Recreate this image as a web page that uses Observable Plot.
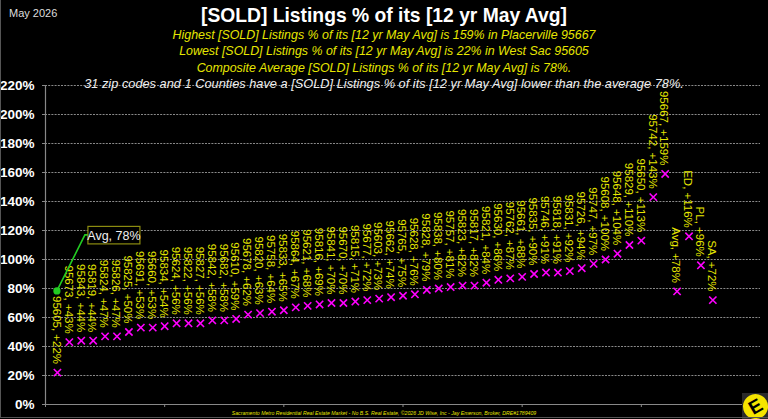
<!DOCTYPE html>
<html><head><meta charset="utf-8">
<script src="https://cdn.jsdelivr.net/npm/d3@7"></script>
<script src="https://cdn.jsdelivr.net/npm/@observablehq/plot@0.6"></script>
<style>
body{margin:0;background:#000;}
#wrap{position:relative;width:768px;height:419px;background:#000;overflow:hidden;font-family:"Liberation Sans",Arial,sans-serif;}
#wrap svg{position:absolute;left:0;top:0;}
.t{position:absolute;white-space:nowrap;line-height:1;}
.c{left:0;width:768px;text-align:center;}
</style></head><body><div id="wrap"></div>
<script>
// ---- data ----
const zipCodes = ["95605","95673","95843","95819","95824","95826","95825","95691","95660","95834",
  "95624","95822","95827","95842","95682","95610","95678","95820","95758","95833",
  "95864","95621","95816","95841","95670","95815","95677","95603","95662","95765",
  "95628","95828","95838","95757","95823","95817","95821","95630","95762","95661",
  "95835","95746","95818","95831","95726","95747","95608","95648","95829","95650",
  "95742","95667"];
const zipValues = [22,43,44,44,47,47,50,53,53,54,
  56,56,56,58,58,59,62,63,64,65,
  67,68,69,70,70,71,72,73,74,75,
  76,79,80,81,82,82,84,86,87,88,
  90,91,91,92,94,97,100,104,110,113,
  143,159];
const countyNames = ["Avg","ED","PL","SA"];
const countyValues = [78,116,96,72];
const averageValue = 78;
const yTicks = [0,20,40,60,80,100,120,140,160,180,200,220];
const xTicks = [0,10,20,30,40,50,60];

const names = zipCodes.concat(countyNames);
const vals = zipValues.concat(countyValues);
const data = names.map((n, i) => ({pos: i + 1, name: n, value: vals[i]}));

const yellow = "#e6e600";

function callout(index, scales, values, dimensions, context) {
  const x0 = scales.x(1), y0 = scales.y(averageValue);
  const g = d3.create("svg:g");
  g.append("path").attr("d", `M${x0},${y0}L${x0+28},${y0-56}L${x0+31},${y0-56}`)
    .attr("fill","none").attr("stroke","#22cc22").attr("stroke-width",1.6);
  g.append("circle").attr("cx",x0).attr("cy",y0).attr("r",3.6).attr("fill","#22cc22");
  g.append("rect").attr("x",x0+31).attr("y",y0-64.5).attr("width",52).attr("height",17.5)
    .attr("fill","#000").attr("stroke","#8c8c10").attr("stroke-width",1.2);
  g.append("text").attr("x",x0+57).attr("y",y0-55.5).attr("dy","0.35em")
    .attr("text-anchor","middle").attr("fill","#f0f0f0").attr("font-size",12.5)
    .text(`Avg, ${averageValue}%`);
  return g.node();
}

const chart = Plot.plot({
  width: 768, height: 419,
  marginLeft: 45, marginRight: 8, marginTop: 85, marginBottom: 15,
  style: {background: "transparent", color: "#fff", fontFamily: "Liberation Sans, Arial, sans-serif"},
  x: {domain: [0, 60], axis: null},
  y: {domain: [0, 220], axis: null},
  marks: [
    Plot.gridY(yTicks, {stroke: "#8a8a8a", strokeOpacity: 1, strokeDasharray: "2,1.2", strokeWidth: 1}),
    Plot.axisY(yTicks, {tickFormat: d => d + "%", tickSize: 3, tickPadding: 8, stroke: "#888",
      fill: "#fff", fontSize: 13.5, fontWeight: "bold", label: null}),
    Plot.axisX(xTicks, {tickFormat: () => "", tickSize: 3, stroke: "#888", label: null}),
    Plot.ruleY([0], {stroke: "#888", strokeWidth: 1.2}),
    Plot.ruleX([0], {y1: 0, y2: 220, stroke: "#888", strokeWidth: 1.2}),
    Plot.dot(data, {x: "pos", y: "value", symbol: "times", r: 3.4, stroke: "#ff00ff", strokeWidth: 1.6}),
    Plot.text(data, {x: "pos", y: "value", text: d => `${d.name}, +${d.value}%`, rotate: 90,
      textAnchor: "end", lineAnchor: "middle", dy: -8.5, dx: -1, fill: yellow, fontSize: 11.5}),
    callout
  ]
});

const wrap = document.getElementById("wrap");
wrap.appendChild(chart);

function addText(txt, css) {
  const d = document.createElement("div");
  d.className = "t" + (css.center ? " c" : "");
  d.textContent = txt;
  for (const k in css) if (k !== "center") d.style[k] = css[k];
  wrap.appendChild(d);
}
addText("May 2026", {left: "9px", top: "8px", fontSize: "11px", color: "#ddd"});
addText("[SOLD] Listings % of its [12 yr May Avg]", {center: true, top: "6px", fontSize: "19.3px", fontWeight: "bold", color: "#fff"});
addText("Highest [SOLD] Listings % of its [12 yr May Avg] is 159% in Placerville 95667", {center: true, top: "28.5px", fontSize: "12.4px", fontStyle: "italic", color: yellow});
addText("Lowest [SOLD] Listings % of its [12 yr May Avg] is 22% in West Sac 95605", {center: true, top: "45px", fontSize: "12.4px", fontStyle: "italic", color: yellow});
addText("Composite Average [SOLD] Listings % of its [12 yr May Avg] is 78%.", {center: true, top: "61.5px", fontSize: "12.4px", fontStyle: "italic", color: yellow});
addText("31 zip codes and 1 Counties have a [SOLD] Listings % of its [12 yr May Avg] lower than the average 78%.", {center: true, top: "78px", fontSize: "12.8px", fontStyle: "italic", color: "#eee"});
addText("Sacramento Metro Residential Real Estate Market - No B.S. Real Estate, ©2026 JD Wise, Inc - Jay Emerson, Broker, DRE#1789409", {center: true, top: "410.5px", fontSize: "5.2px", fontStyle: "italic", color: yellow});

// logo
const logoBg = document.createElement("div");
Object.assign(logoBg.style, {position: "absolute", left: "742px", top: "393px", width: "26px", height: "26px", background: "#2a2a2a"});
wrap.appendChild(logoBg);
const logo = document.createElement("div");
Object.assign(logo.style, {position: "absolute", left: "743px", top: "394px", width: "25px", height: "25px", borderRadius: "50%",
  background: "#f5e400", color: "#000", fontWeight: "bold", fontSize: "19px", textAlign: "center", lineHeight: "25px",
  transform: "rotate(-30deg)", fontFamily: "Liberation Sans, Arial, sans-serif"});
logo.textContent = "E";
wrap.appendChild(logo);

// frame
const frame = document.createElement("div");
Object.assign(frame.style, {position: "absolute", left: "0", top: "0", width: "767px", height: "417px",
  borderLeft: "1px solid #555", borderBottom: "1px solid #555", pointerEvents: "none"});
wrap.appendChild(frame);
</script></body></html>
